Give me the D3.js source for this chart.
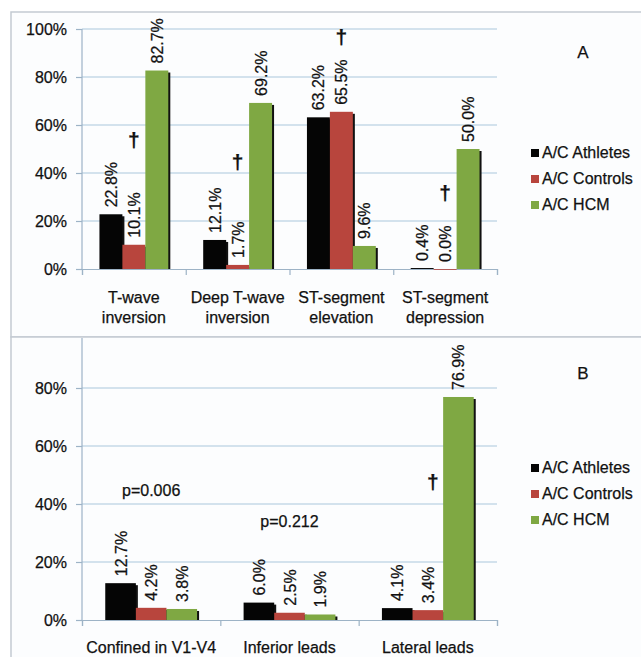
<!DOCTYPE html>
<html>
  <head>
    <script src="https://d3js.org/d3.v7.min.js"></script>
  </head>
  <style>
    body { margin: 0; background: #fff; }
    svg text { font-family: "Liberation Sans", Arial, sans-serif; font-size: 16px; fill: #111; stroke: #111; stroke-width: 0.25px; }
  </style>
  <body>
    <svg width="641" height="657"></svg>
    <script>
      var series = ["A/C Athletes", "A/C Controls", "A/C HCM"];
      var colors = ["#050505", "#b8453d", "#7fa843"];

      // panel A
      var catsA = [["T-wave", "inversion"], ["Deep T-wave", "inversion"], ["ST-segment", "elevation"], ["ST-segment", "depression"]];
      var athletesA = [0.228, 0.121, 0.632, 0.004];
      var controlsA = [0.101, 0.017, 0.655, 0.000];
      var hcmA = [0.827, 0.692, 0.096, 0.500];
      var ticksA = [0, 0.2, 0.4, 0.6, 0.8, 1.0];
      var daggersA = [[0, 0.54], [1, 0.45], [2, 0.97], [3, 0.32]];

      // panel B
      var catsB = [["Confined in V1-V4"], ["Inferior leads"], ["Lateral leads"]];
      var athletesB = [0.127, 0.060, 0.041];
      var controlsB = [0.042, 0.025, 0.034];
      var hcmB = [0.038, 0.019, 0.769];
      var ticksB = [0, 0.2, 0.4, 0.6, 0.8];
      var pValuesB = [[0, 0.45, "p=0.006"], [1, 0.34, "p=0.212"]];
      var daggersB = [[2, 0.48]];

      var svg = d3.select("svg");
      var fmt = d3.format(".1%");

      // panel frames
      svg.append("rect").attr("x", 11).attr("y", 12).attr("width", 640).attr("height", 325)
        .attr("fill", "#fcfdfe").attr("stroke", "#c3cad2").attr("stroke-width", 1.5);
      svg.append("rect").attr("x", 11).attr("y", 337).attr("width", 640).attr("height", 330)
        .attr("fill", "#fcfdfe").attr("stroke", "#c3cad2").attr("stroke-width", 1.5);

      function panel(o) {
        var g = svg.append("g");
        var x = d3.scaleBand().domain(d3.range(o.cats.length)).range([82, 497]).paddingInner(0).paddingOuter(0);
        var inner = d3.scaleBand().domain(d3.range(3)).range([0, x.bandwidth()]).paddingOuter(0.76).paddingInner(0);
        var y = d3.scaleLinear().domain([0, 1]).range([o.y0, o.y1]);

        // gridlines
        g.selectAll("line.grid").data(o.ticks.filter(d => d > 0)).enter().append("line")
          .attr("x1", 82).attr("x2", 497)
          .attr("y1", d => y(d)).attr("y2", d => y(d))
          .attr("stroke", "#a9c7dc").attr("stroke-width", 1.2);

        // y axis
        var yAxis = d3.axisLeft(y).tickValues(o.ticks).tickFormat(d3.format(".0%")).tickSize(6).tickPadding(9);
        var ya = g.append("g").attr("transform", "translate(82,0)").call(yAxis);
        ya.select("path.domain").remove();
        ya.selectAll(".tick line").attr("stroke", "#9db3c6").attr("stroke-width", 1.2);
        ya.selectAll(".tick text").style("font-size", "16px").style("font-family", "Liberation Sans, Arial, sans-serif").attr("fill", "#111");
        g.append("line").attr("x1", 82).attr("x2", 82).attr("y1", o.y0).attr("y2", o.axisTop)
          .attr("stroke", "#9db3c6").attr("stroke-width", 1.2);

        // x axis
        var xa = d3.scaleLinear().domain([0, o.cats.length]).range([82, 497]);
        var xAxis = d3.axisBottom(xa).tickValues(d3.range(o.cats.length + 1)).tickSize(6).tickFormat("");
        var xg = g.append("g").attr("transform", "translate(0," + o.y0 + ")").call(xAxis);
        xg.select("path.domain").attr("stroke", "#9db3c6").attr("stroke-width", 1.2);
        xg.selectAll(".tick line").attr("stroke", "#9db3c6").attr("stroke-width", 1.2);

        // category labels
        o.cats.forEach(function (lines, i) {
          lines.forEach(function (t, j) {
            g.append("text").attr("x", x(i) + x.bandwidth() / 2).attr("y", o.labelY + j * 20)
              .attr("text-anchor", "middle").text(t);
          });
        });

        // bars
        var vals = [o.a, o.c, o.h];
        vals.forEach(function (arr, s) {
          arr.forEach(function (v, i) {
            var bx = x(i) + inner(s), bw = inner.bandwidth();
            if (v > 0.001) {
              g.append("rect").attr("x", bx + 2).attr("y", y(v) + 2).attr("width", bw).attr("height", o.y0 - y(v) - 2)
                .attr("fill", "#111");
            }
            g.append("rect").attr("x", bx).attr("y", y(v)).attr("width", bw).attr("height", Math.max(o.y0 - y(v), 0.8))
              .attr("fill", colors[s]);
          });
        });
        vals.forEach(function (arr, s) {
          arr.forEach(function (v, i) {
            var cx = x(i) + inner(s) + inner.bandwidth() / 2 + 6;
            var cy = y(v) - 7;
            g.append("text").attr("transform", "translate(" + cx + "," + cy + ") rotate(-90)")
              .text(fmt(v));
          });
        });

        // daggers
        o.daggers.forEach(function (d) {
          g.append("text").attr("x", x(d[0]) + x.bandwidth() / 2 + (o.daggerDx || 0)).attr("y", y(d[1]) + 8)
            .attr("text-anchor", "middle").style("font-weight", "bold").style("font-size", "21px").text("\u2020");
        });
        (o.pvals || []).forEach(function (d) {
          g.append("text").attr("x", x(d[0]) + x.bandwidth() / 2).attr("y", y(d[1]) + 6)
            .attr("text-anchor", "middle").text(d[2]);
        });

        // legend
        series.forEach(function (s, i) {
          g.append("rect").attr("x", 531).attr("y", o.legY + i * 26 - 9).attr("width", 8).attr("height", 8)
            .attr("fill", colors[i]);
          g.append("text").attr("x", 542).attr("y", o.legY + i * 26).text(s);
        });

        g.append("text").attr("x", 583).attr("y", o.tagY).attr("text-anchor", "middle")
          .style("font-size", "17px").text(o.tag);
      }

      panel({ cats: catsA, a: athletesA, c: controlsA, h: hcmA, ticks: ticksA, y0: 269, y1: 29, axisTop: 29,
        labelY: 303, daggers: daggersA, legY: 158, tagY: 58, tag: "A" });
      panel({ cats: catsB, a: athletesB, c: controlsB, h: hcmB, ticks: ticksB, y0: 620, y1: 330, axisTop: 338,
        labelY: 653, daggers: daggersB, daggerDx: 5, pvals: pValuesB, legY: 473, tagY: 379, tag: "B" });
    </script>
  </body>
</html>
